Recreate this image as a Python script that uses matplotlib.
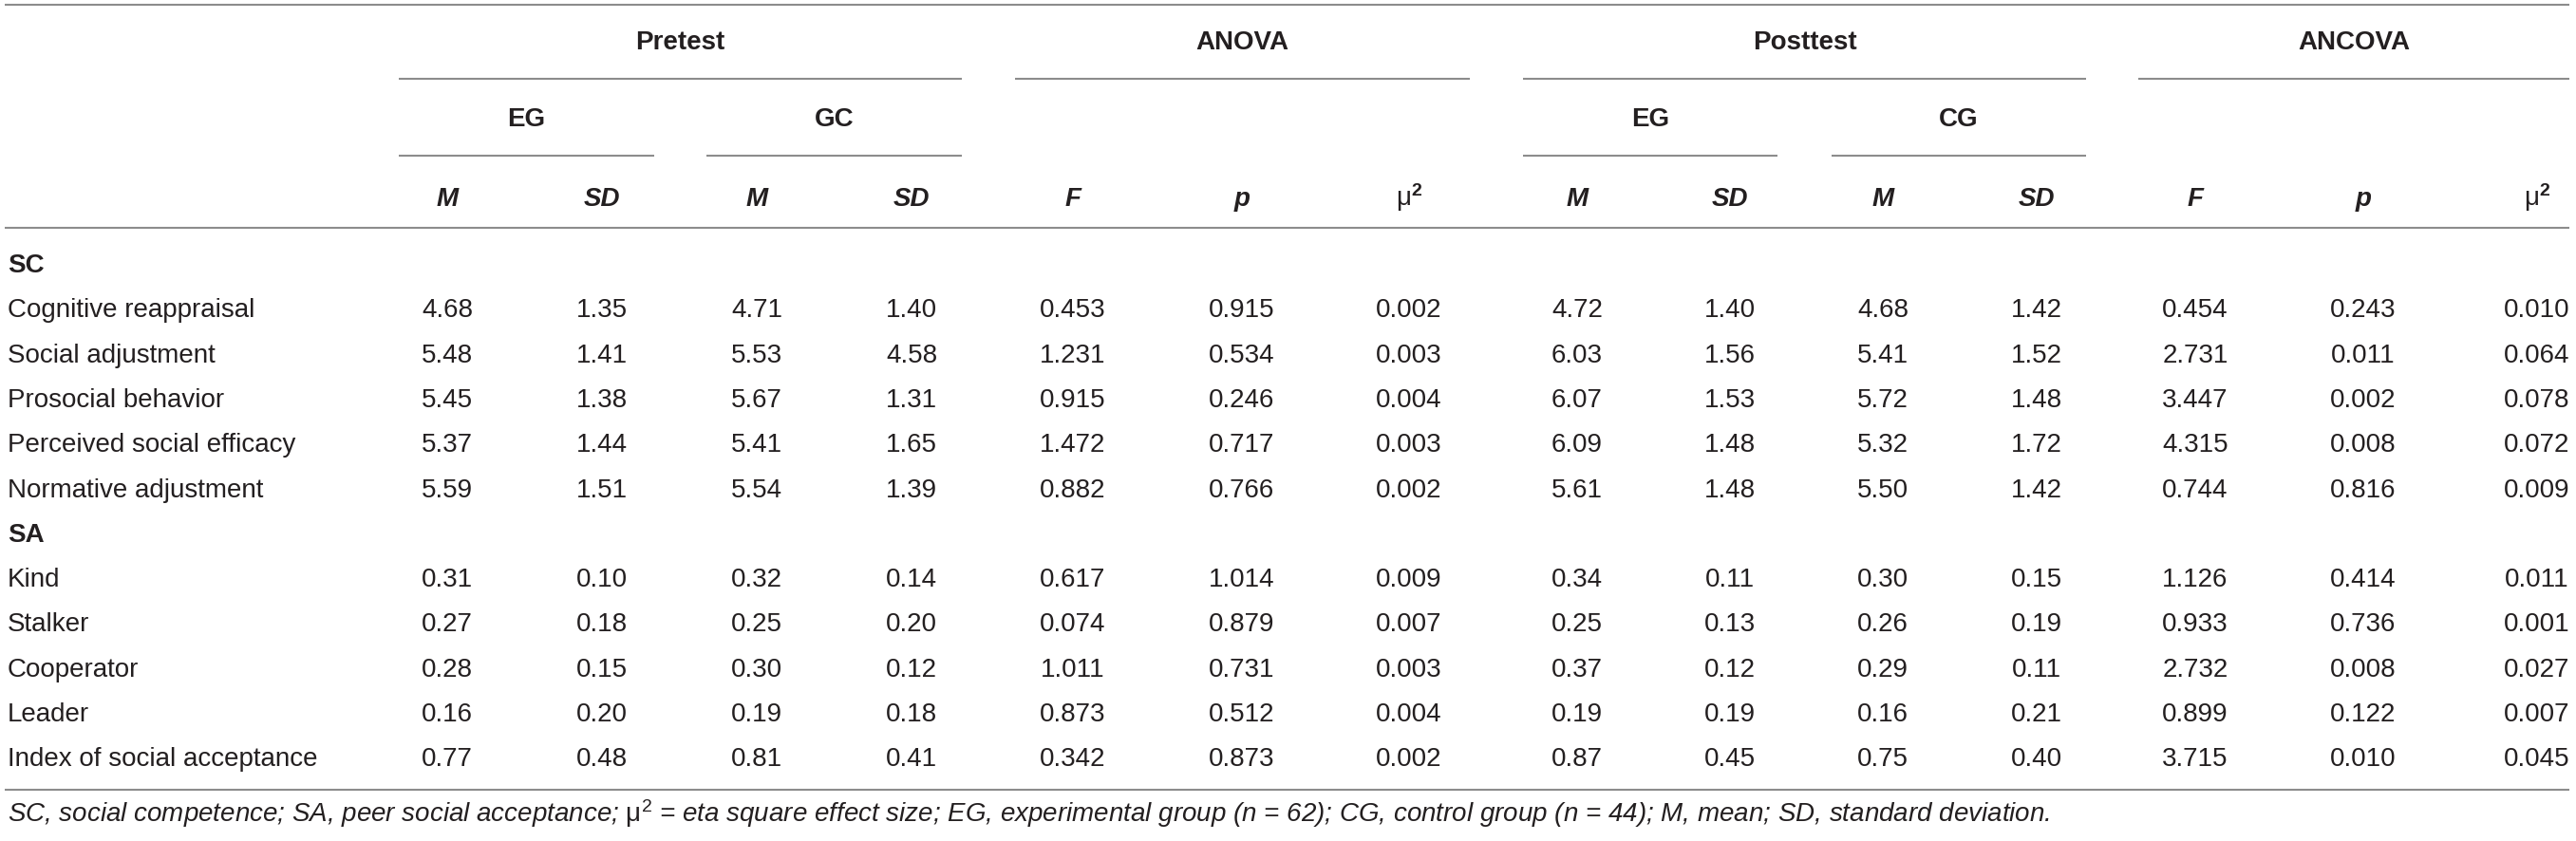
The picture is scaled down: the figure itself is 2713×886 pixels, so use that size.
import matplotlib
matplotlib.use("Agg")
import matplotlib.pyplot as plt

plt.rcParams["font.family"] = ["Liberation Sans", "DejaVu Sans"]
plt.rcParams["mathtext.fontset"] = "custom"
plt.rcParams["mathtext.rm"] = "Liberation Sans"
plt.rcParams["mathtext.it"] = "Liberation Sans:italic"
plt.rcParams["mathtext.bf"] = "Liberation Sans:bold"

# table content
sections = ["SC", "SA"]
rows_sc = ["Cognitive reappraisal", "Social adjustment", "Prosocial behavior",
           "Perceived social efficacy", "Normative adjustment"]
rows_sa = ["Kind", "Stalker", "Cooperator", "Leader", "Index of social acceptance"]

groups = ["Pretest", "ANOVA", "Posttest", "ANCOVA"]
subgroups = ["EG", "GC", "EG", "CG"]
stat_labels = ["M", "SD", "M", "SD", "F", "p", "μ2", "M", "SD", "M", "SD", "F", "p", "μ2"]

pre_eg_m = [4.68, 5.48, 5.45, 5.37, 5.59, 0.31, 0.27, 0.28, 0.16, 0.77]
pre_eg_sd = [1.35, 1.41, 1.38, 1.44, 1.51, 0.10, 0.18, 0.15, 0.20, 0.48]
pre_gc_m = [4.71, 5.53, 5.67, 5.41, 5.54, 0.32, 0.25, 0.30, 0.19, 0.81]
pre_gc_sd = [1.40, 4.58, 1.31, 1.65, 1.39, 0.14, 0.20, 0.12, 0.18, 0.41]
anova_f = [0.453, 1.231, 0.915, 1.472, 0.882, 0.617, 0.074, 1.011, 0.873, 0.342]
anova_p = [0.915, 0.534, 0.246, 0.717, 0.766, 1.014, 0.879, 0.731, 0.512, 0.873]
anova_eta = [0.002, 0.003, 0.004, 0.003, 0.002, 0.009, 0.007, 0.003, 0.004, 0.002]
post_eg_m = [4.72, 6.03, 6.07, 6.09, 5.61, 0.34, 0.25, 0.37, 0.19, 0.87]
post_eg_sd = [1.40, 1.56, 1.53, 1.48, 1.48, 0.11, 0.13, 0.12, 0.19, 0.45]
post_cg_m = [4.68, 5.41, 5.72, 5.32, 5.50, 0.30, 0.26, 0.29, 0.16, 0.75]
post_cg_sd = [1.42, 1.52, 1.48, 1.72, 1.42, 0.15, 0.19, 0.11, 0.21, 0.40]
ancova_f = [0.454, 2.731, 3.447, 4.315, 0.744, 1.126, 0.933, 2.732, 0.899, 3.715]
ancova_p = [0.243, 0.011, 0.002, 0.008, 0.816, 0.414, 0.736, 0.008, 0.122, 0.010]
ancova_eta = [0.010, 0.064, 0.078, 0.072, 0.009, 0.011, 0.001, 0.027, 0.007, 0.045]

columns = [pre_eg_m, pre_eg_sd, pre_gc_m, pre_gc_sd, anova_f, anova_p, anova_eta,
           post_eg_m, post_eg_sd, post_cg_m, post_cg_sd, ancova_f, ancova_p, ancova_eta]
decimals = [2, 2, 2, 2, 3, 3, 3, 2, 2, 2, 2, 3, 3, 3]

footnote = ("SC, social competence; SA, peer social acceptance; $\\mathrm{μ}^{2}$ = eta square effect size; "
            "EG, experimental group ($n$ = 62); CG, control group ($n$ = 44); M, mean; SD, standard deviation.")

# layout (pixel coordinates)
W, H = 2713, 886
col_x = [471, 634, 797, 960, 1130, 1308, 1484, 1661, 1822, 1983, 2145, 2312, 2489, 2672]
group_span = [(420, 1013), (1069, 1548), (1604, 2197), (2252, 2706)]
sub_span = [(420, 689), (744, 1013), (1604, 1872), (1929, 2197)]
label_x = 8
row0, row_step = 277, 47.3
txt = "#231f20"
rule = "#8c8c8c"
fs = 20

fig = plt.figure(figsize=(W / 100, H / 100), dpi=100)
ax = fig.add_axes([0, 0, 1, 1])
ax.set_xlim(0, W)
ax.set_ylim(H, 0)
ax.axis("off")

# horizontal rules
for y in [5, 240, 832]:
    ax.plot([5, 2706], [y, y], color=rule, lw=1.5, solid_capstyle="butt")
for x0, x1 in group_span:
    ax.plot([x0, x1], [83, 83], color=rule, lw=1.5, solid_capstyle="butt")
for x0, x1 in sub_span:
    ax.plot([x0, x1], [164, 164], color=rule, lw=1.5, solid_capstyle="butt")

# header text
for name, (x0, x1) in zip(groups, group_span):
    ax.text((x0 + x1) / 2, 52, name, ha="center", va="baseline", fontsize=fs,
            fontweight="bold", color=txt)
for name, (x0, x1) in zip(subgroups, sub_span):
    ax.text((x0 + x1) / 2, 133, name, ha="center", va="baseline", fontsize=fs,
            fontweight="bold", color=txt)
for name, x in zip(stat_labels, col_x):
    if name == "μ2":
        ax.text(x, 217, "μ$^{\\mathbf{2}}$", ha="center", va="baseline", fontsize=fs, color=txt)
    else:
        ax.text(x, 217, name, ha="center", va="baseline", fontsize=fs,
                fontweight="bold", fontstyle="italic", color=txt)

# body
body = [(sections[0], True)] + [(r, False) for r in rows_sc] + \
       [(sections[1], True)] + [(r, False) for r in rows_sa]
k = 0
for i, (label, is_section) in enumerate(body):
    yb = row0 + i * row_step + 10
    ax.text(label_x, yb, label, ha="left", va="baseline", fontsize=fs, color=txt,
            fontweight="bold" if is_section else "normal")
    if is_section:
        continue
    for col, dec, x in zip(columns, decimals, col_x):
        ax.text(x, yb, f"{col[k]:.{dec}f}", ha="center", va="baseline",
                fontsize=fs, color=txt)
    k += 1

ax.text(label_x, 866, footnote, ha="left", va="baseline", fontsize=fs,
        fontstyle="italic", color=txt)

fig.savefig("out.png", dpi=100, facecolor="white")
